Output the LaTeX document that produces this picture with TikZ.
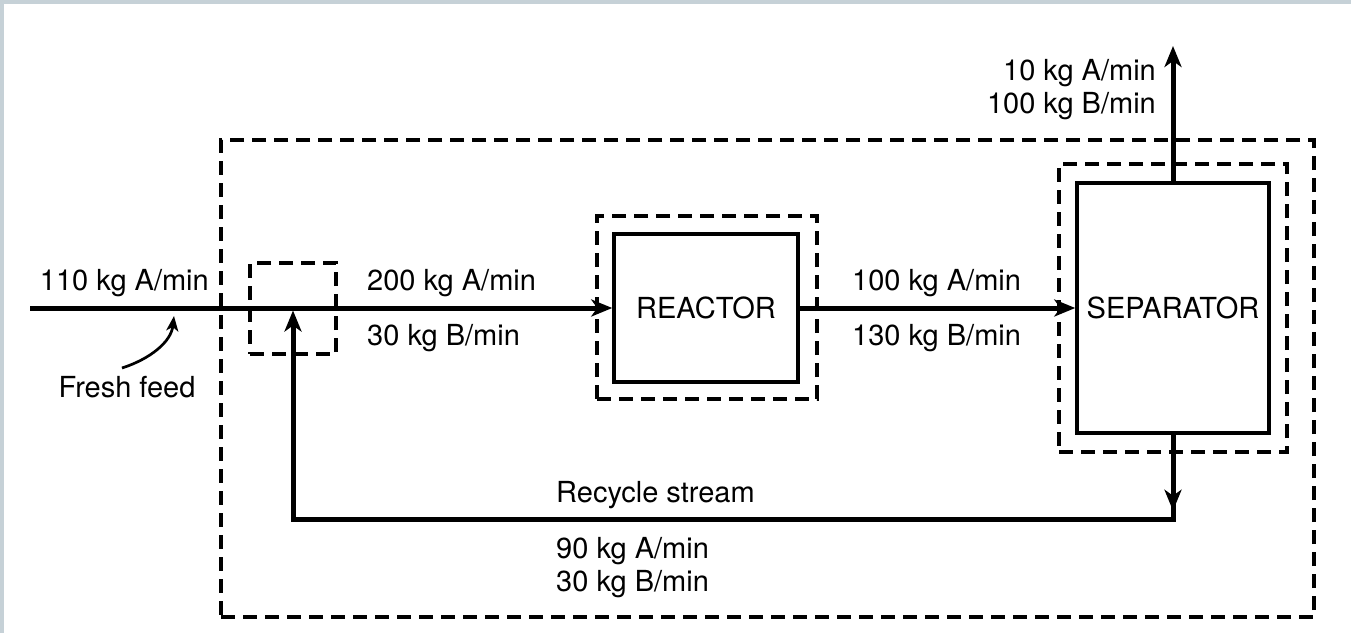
\documentclass[tikz,border=0pt]{standalone}
\usepackage{fontspec}
\setmainfont{TeX Gyre Heros}
\usetikzlibrary{arrows.meta,decorations.markings}
\definecolor{framegray}{HTML}{C6D1D7}
\begin{document}
\begin{tikzpicture}[x=1pt,y=-1pt,
  lbl/.style={inner sep=0pt,font=\fontsize{29}{34}\selectfont},
  unitbox/.style={draw,line width=3.5pt,inner sep=0pt,font=\fontsize{29}{34}\selectfont},
  cvbox/.style={draw,line width=3.3pt,dash pattern=on 14pt off 8pt,inner sep=0pt},
  stream/.style={line width=5pt},
  tip/.style={-{Stealth[length=21pt,width=17pt,inset=6pt]}},
  feedarrow/.style={line width=2.7pt,-{Stealth[length=15pt,width=12pt,inset=4pt]}}
]
\useasboundingbox (0,0) rectangle (1351,633);
\fill[white] (0,0) rectangle (1351,633);
\fill[framegray] (0,0) rectangle (1351,4);
\fill[framegray] (0,0) rectangle (4,633);

% control volumes
\node[cvbox,minimum width=1093pt,minimum height=477pt] (outer) at (767.5,378.5) {};
\node[cvbox,minimum width=86pt,minimum height=91pt] (mixer) at (293,308.5) {};
\node[cvbox,minimum width=220pt,minimum height=183pt] (rcv) at (707,307.5) {};
\node[cvbox,minimum width=228pt,minimum height=288pt] (scv) at (1173,308) {};

% units
\node[unitbox,minimum width=184pt,minimum height=148pt] (reactor) at (706,308) {REACTOR};
\node[unitbox,minimum width=192pt,minimum height=250pt] (separator) at (1173,308) {SEPARATOR};

% coordinates
\coordinate (feedin) at (30,308);
\coordinate (product) at (1173,46);
\coordinate (corner) at (1173,519);
\coordinate (join) at (293,310.5);
\coordinate (ffstart) at (122,368);
\coordinate (fftip) at (174,316);

% streams
\draw[stream,tip] (feedin) -- (reactor.west);
\draw[stream,tip] (reactor.east) -- (separator.west);
\draw[stream,tip] (separator.north) -- (product);
\draw[stream,tip,
  postaction={decorate,decoration={markings,
    mark=at position 76pt with {\arrow{Stealth[length=21pt,width=17pt,inset=6pt]}}}}]
  (separator.south) -- (corner) -| (join);
\draw[feedarrow] (ffstart) .. controls (150,359) and (171,342) .. (fftip);

% labels
\node[lbl,anchor=base east] (f1) at (209,290) {110 kg A/min};
\node[lbl,anchor=base] (ff) at (127,397) {Fresh feed};
\node[lbl,anchor=base west] (r1) at (367,290) {200 kg A/min};
\node[lbl,anchor=base west] (r2) at (367,345) {30 kg B/min};
\node[lbl,anchor=base west] (s1) at (852,290) {100 kg A/min};
\node[lbl,anchor=base west] (s2) at (852,345) {130 kg B/min};
\node[lbl,anchor=base east] (p1) at (1156,80) {10 kg A/min};
\node[lbl,anchor=base east] (p2) at (1156,113) {100 kg B/min};
\node[lbl,anchor=base west] (c0) at (556,502) {Recycle stream};
\node[lbl,anchor=base west] (c1) at (556,558) {90 kg A/min};
\node[lbl,anchor=base west] (c2) at (556,591) {30 kg B/min};
\end{tikzpicture}
\end{document}
